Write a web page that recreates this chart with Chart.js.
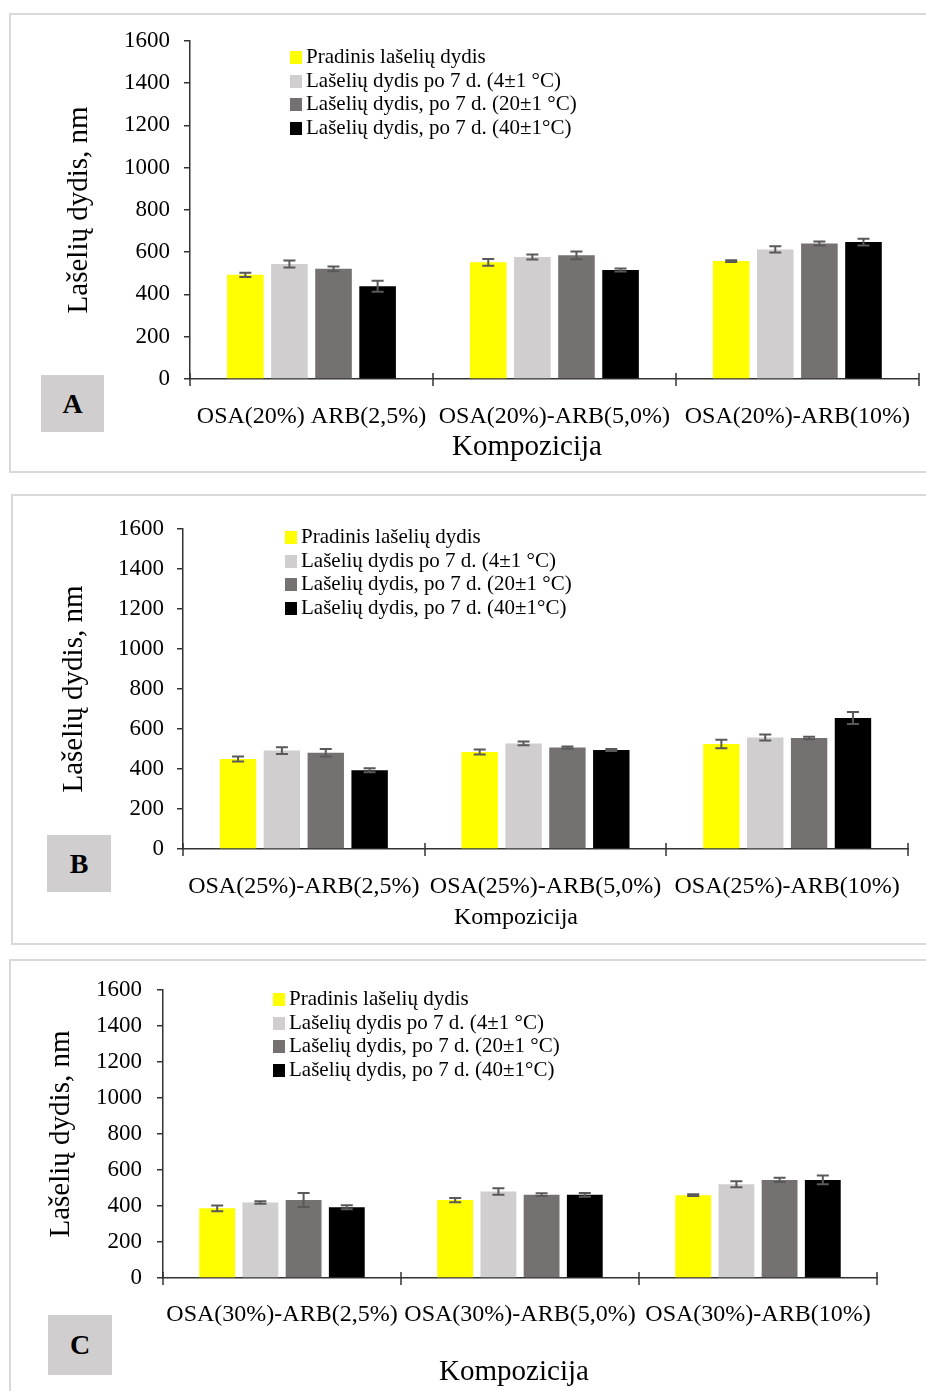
<!DOCTYPE html>
<html>
<head>
<meta charset="utf-8">
<script src="https://cdn.jsdelivr.net/npm/chart.js@4.4.1/dist/chart.umd.min.js"></script>
<style>
  body { margin: 0; width: 926px; height: 1391px; background: #fff; position: relative; overflow: hidden; font-family: 'Liberation Serif', 'Times New Roman', serif; }
  .frame { position: absolute; border: 2px solid #d9d9d9; box-sizing: border-box; }
  canvas { position: absolute; left: 0; }
  .legend { position: absolute; font-size: 21px; line-height: 23.5px; color: #000; white-space: nowrap; }
  .legend .box { display: inline-block; width: 12px; height: 13px; margin-right: 4px; vertical-align: -1px; }
  .xtitle { position: absolute; transform: translate(-50%, -50%); white-space: nowrap; color: #000; }
  .tag { position: absolute; background: #d0cece; font-weight: bold; font-size: 28px; display: flex; align-items: center; justify-content: center; }
</style>
</head>
<body>

<div class="frame" style="left:9px;top:13px;width:930px;height:460px"></div>
<div class="frame" style="left:11px;top:494px;width:930px;height:451px"></div>
<div class="frame" style="left:9px;top:959px;width:930px;height:445px"></div>

<canvas id="chartA" width="926" height="460" style="top:13px"></canvas>
<canvas id="chartB" width="926" height="449" style="top:495px"></canvas>
<canvas id="chartC" width="926" height="432" style="top:959px"></canvas>

<div class="legend" id="legendA" style="left:290px;top:45px"></div>
<div class="legend" id="legendB" style="left:285px;top:525px"></div>
<div class="legend" id="legendC" style="left:273px;top:987px"></div>

<div class="xtitle" style="left:527px;top:445px;font-size:29px">Kompozicija</div>
<div class="xtitle" style="left:516px;top:916px;font-size:24px">Kompozicija</div>
<div class="xtitle" style="left:514px;top:1370px;font-size:29px">Kompozicija</div>

<div class="tag" style="left:41px;top:375px;width:63px;height:57px">A</div>
<div class="tag" style="left:47px;top:835px;width:64px;height:57px">B</div>
<div class="tag" style="left:48px;top:1315px;width:64px;height:60px">C</div>

<script>
const seriesLabels = [
  'Pradinis lašelių dydis',
  'Lašelių dydis po 7 d. (4±1 °C)',
  'Lašelių dydis, po 7 d. (20±1 °C)',
  'Lašelių dydis, po 7 d. (40±1°C)'
];
const seriesColors = ['#ffff00', '#d0cece', '#767171', '#000000'];
const yTitle = 'Lašelių dydis, nm';

// A: OSA 20 %
const categoriesA = ['OSA(20%) ARB(2,5%)', 'OSA(20%)-ARB(5,0%)', 'OSA(20%)-ARB(10%)'];
const initialA = [493, 552, 558];
const day7at4A = [544, 577, 613];
const day7at20A = [521, 585, 641];
const day7at40A = [439, 516, 648];
const errInitialA = [10, 16, 4];
const err4A = [17, 12, 15];
const err20A = [11, 18, 10];
const err40A = [26, 7, 16];

// B: OSA 25 %
const categoriesB = ['OSA(25%)-ARB(2,5%)', 'OSA(25%)-ARB(5,0%)', 'OSA(25%)-ARB(10%)'];
const initialB = [450, 485, 525];
const day7at4B = [492, 528, 557];
const day7at20B = [481, 507, 555];
const day7at40B = [394, 495, 655];
const errInitialB = [13, 13, 21];
const err4B = [17, 9, 15];
const err20B = [19, 6, 6];
const err40B = [10, 5, 30];

// C: OSA 30 %
const categoriesC = ['OSA(30%)-ARB(2,5%)', 'OSA(30%)-ARB(5,0%)', 'OSA(30%)-ARB(10%)'];
const initialC = [387, 433, 460];
const day7at4C = [419, 480, 521];
const day7at20C = [433, 463, 545];
const day7at40C = [393, 462, 545];
const errInitialC = [16, 12, 5];
const err4C = [7, 18, 17];
const err20C = [39, 8, 12];
const err40C = [11, 10, 24];

const axisColor = '#333333';
const serif = 'Liberation Serif';

// draws +/- error bars on top of every bar
const errorBars = {
  id: 'errorBars',
  afterDatasetsDraw(chart) {
    const { ctx } = chart;
    const y = chart.scales.y;
    ctx.save();
    ctx.strokeStyle = '#595959';
    ctx.lineWidth = 2;
    chart.data.datasets.forEach((ds, i) => {
      chart.getDatasetMeta(i).data.forEach((bar, j) => {
        const top = y.getPixelForValue(ds.data[j] + ds.errors[j]);
        const bottom = y.getPixelForValue(ds.data[j] - ds.errors[j]);
        ctx.beginPath();
        ctx.moveTo(bar.x, top); ctx.lineTo(bar.x, bottom);
        ctx.moveTo(bar.x - 6, top); ctx.lineTo(bar.x + 6, top);
        ctx.moveTo(bar.x - 6, bottom); ctx.lineTo(bar.x + 6, bottom);
        ctx.stroke();
      });
    });
    ctx.restore();
  }
};

// small tick marks crossing the x axis between categories
const categoryTicks = {
  id: 'categoryTicks',
  afterDraw(chart) {
    const { ctx } = chart;
    const x = chart.scales.x;
    const base = chart.scales.y.getPixelForValue(0);
    ctx.save();
    ctx.strokeStyle = axisColor;
    ctx.lineWidth = 1.5;
    for (let i = 0; i <= chart.data.labels.length; i++) {
      const px = Math.round(x.getPixelForValue(i - 0.5));
      ctx.beginPath();
      ctx.moveTo(px, base - 6);
      ctx.lineTo(px, base + 7);
      ctx.stroke();
    }
    ctx.restore();
  }
};

function buildLegend(id) {
  const el = document.getElementById(id);
  seriesLabels.forEach((label, i) => {
    const row = document.createElement('div');
    const box = document.createElement('span');
    box.className = 'box';
    box.style.background = seriesColors[i];
    row.appendChild(box);
    row.appendChild(document.createTextNode(label));
    el.appendChild(row);
  });
}

function makeChart(id, labels, values, errors, box) {
  const ctx = document.getElementById(id).getContext('2d');
  return new Chart(ctx, {
    type: 'bar',
    data: {
      labels,
      datasets: values.map((data, i) => ({
        label: seriesLabels[i],
        data,
        errors: errors[i],
        backgroundColor: seriesColors[i],
        borderWidth: 0,
        categoryPercentage: 0.726,
        barPercentage: 0.83
      }))
    },
    options: {
      responsive: false,
      devicePixelRatio: 1,
      animation: false,
      layout: { padding: { left: 0, top: box.top, right: box.right, bottom: 0 } },
      plugins: { legend: { display: false }, tooltip: { enabled: false } },
      scales: {
        x: {
          grid: { display: false },
          border: { color: axisColor, width: 1.5 },
          ticks: {
            color: '#000', font: { family: serif, size: 24 },
            padding: box.xPad, autoSkip: false, maxRotation: 0, minRotation: 0
          },
          afterFit: s => { s.height = box.xHeight; }
        },
        y: {
          min: 0, max: 1600,
          grid: { drawOnChartArea: false, drawTicks: true, tickLength: 6, color: axisColor, lineWidth: 1.5 },
          border: { color: axisColor, width: 1.5 },
          ticks: {
            stepSize: 200, color: '#000', font: { family: serif, size: 23 }, padding: box.yPad,
            callback: v => String(v)
          },
          title: {
            display: true, text: yTitle, color: '#000',
            font: { family: serif, size: 29 }, padding: { top: box.titlePad, bottom: 0 }
          },
          afterFit: s => { s.width = box.left; }
        }
      }
    },
    plugins: [errorBars, categoryTicks]
  });
}

buildLegend('legendA');
buildLegend('legendB');
buildLegend('legendC');

makeChart('chartA', categoriesA,
  [initialA, day7at4A, day7at20A, day7at40A],
  [errInitialA, err4A, err20A, err40A],
  { left: 190, top: 26, right: 6, xHeight: 94, xPad: 15, yPad: 14, titlePad: 62 });

makeChart('chartB', categoriesB,
  [initialB, day7at4B, day7at20B, day7at40B],
  [errInitialB, err4B, err20B, err40B],
  { left: 183, top: 34, right: 18, xHeight: 95, xPad: 15, yPad: 13, titlePad: 57 });

makeChart('chartC', categoriesC,
  [initialC, day7at4C, day7at20C, day7at40C],
  [errInitialC, err4C, err20C, err40C],
  { left: 163, top: 31, right: 49, xHeight: 113, xPad: 14, yPad: 15, titlePad: 44 });
</script>
</body>
</html>
